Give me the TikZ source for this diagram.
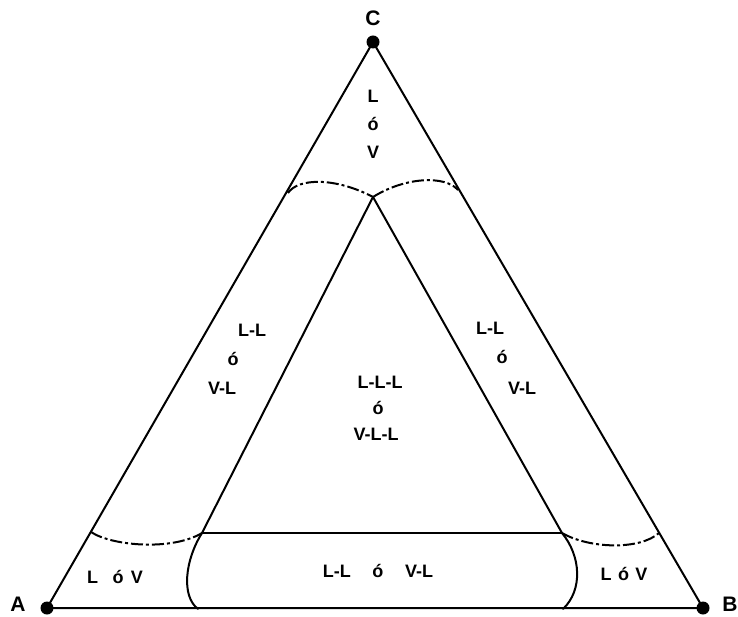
\documentclass[tikz,border=0pt]{standalone}
\usepackage{fontspec}
\setmainfont{Liberation Sans}
\begin{document}
\begin{tikzpicture}[x=1pt,y=-1pt,
  edge/.style={line width=2pt,line cap=round,line join=round},
  dashcurve/.style={line width=2pt,dash pattern=on 12pt off 3pt on 3pt off 3pt},
  vtx/.style={circle,fill=black,inner sep=0pt,minimum size=13pt},
  vlabel/.style={font=\bfseries\fontsize{21}{24}\selectfont,inner sep=0pt},
  region/.style={font=\bfseries\fontsize{18}{28}\selectfont,inner sep=0pt,align=center}]
\useasboundingbox (0,0) rectangle (738,617);
% vertices
\coordinate (A) at (47,608);
\coordinate (B) at (703,608);
\coordinate (C) at (373,42);
\coordinate (P) at (373,197);
\coordinate (HL) at (202,533);
\coordinate (HR) at (562,533);
\coordinate (BL) at (198,609);
\coordinate (BR) at (563,609);
\coordinate (ELt) at (288,193);
\coordinate (ERt) at (458,190);
\coordinate (ELb) at (91,532);
\coordinate (ERb) at (659,533);
% triangle
\draw[edge] (A) -- (B) -- (C) -- cycle;
% inner triangle
\draw[edge] (HL) -- (P) -- (HR);
\draw[edge] (HL) -- (HR);
% bottom curves
\draw[edge] (HL) .. controls (185,560) and (181,596) .. (BL);
\draw[edge] (HR) .. controls (581,556) and (583,590) .. (BR);
% dashed curves
\draw[dashcurve] (ELt) .. controls (298,178) and (335,177) .. (P);
\draw[dashcurve] (P) .. controls (405,177) and (445,175) .. (ERt);
\draw[dashcurve] (ELb) .. controls (112,546) and (172,551) .. (HL);
\draw[dashcurve] (HR) .. controls (590,549) and (640,550) .. (ERb);
% vertex dots
\node[vtx] (dA) at (A) {};
\node[vtx] (dB) at (B) {};
\node[vtx] (dC) at (C) {};
\node[vlabel] (lA) at (18,604) {A};
\node[vlabel] (lB) at (730,604) {B};
\node[vlabel] (lC) at (373,18) {C};
% region labels
\node[region] (top) at (373,124) {L\\ó\\V};
\node[region] (l1) at (252,330) {L-L};
\node[region] (l2) at (233,359) {ó};
\node[region] (l3) at (222,388) {V-L};
\node[region] (c1) at (380,382) {L-L-L};
\node[region] (c2) at (378,408) {ó};
\node[region] (c3) at (376,434) {V-L-L};
\node[region] (r1) at (490,328) {L-L};
\node[region] (r2) at (502,357) {ó};
\node[region] (r3) at (522,388) {V-L};
\node[region] (bl) at (115,577) {L\hspace{0.8em}ó\hspace{0.4em}V};
\node[region] (bm) at (378,571) {L-L\hspace{1.2em}ó\hspace{1.2em}V-L};
\node[region] (br) at (624,574) {L\hspace{0.35em}ó\hspace{0.35em}V};
\end{tikzpicture}
\end{document}
